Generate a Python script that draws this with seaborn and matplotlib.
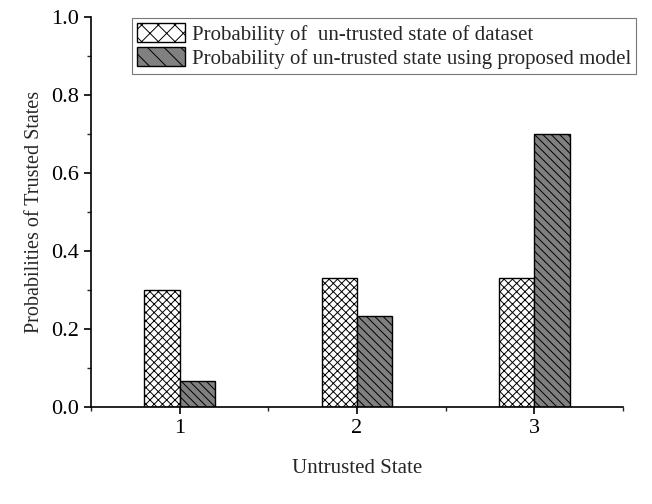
import matplotlib
matplotlib.use("Agg")
import matplotlib.pyplot as plt
import seaborn as sns
import pandas as pd
from matplotlib.ticker import MultipleLocator
from matplotlib.patches import Patch

# data
states = [1, 2, 3]
p_dataset = [0.30, 0.33, 0.33]
p_model = [0.067, 0.233, 0.70]
series_names = ["Probability of  un-trusted state of dataset",
                "Probability of un-trusted state using proposed model"]

df = pd.DataFrame({
    "state": states * 2,
    "prob": p_dataset + p_model,
    "series": [series_names[0]] * 3 + [series_names[1]] * 3,
})

sns.set_style("ticks")
plt.rcParams["font.family"] = ["Liberation Serif", "DejaVu Serif"]
plt.rcParams["hatch.linewidth"] = 0.7

fig = plt.figure(figsize=(6.52, 5.04), dpi=100)
ax = fig.add_axes([0.1396, 0.1925, 0.8159, 0.7738])

sns.barplot(data=df, x="state", y="prob", hue="series", native_scale=True,
            width=0.4, palette=["white", "#808080"], edgecolor="black",
            linewidth=1.0, ax=ax, legend=False)

hatches = ["xxxx", "\\\\\\\\"]
for cont, h in zip(ax.containers, hatches):
    for bar in cont:
        bar.set_hatch(h)
        bar.set_edgecolor("black")

ax.set_xlim(0.5, 3.5)
ax.set_ylim(0, 1.0)
ax.set_xticks(states)
ax.xaxis.set_minor_locator(MultipleLocator(0.5))
ax.yaxis.set_major_locator(MultipleLocator(0.2))
ax.yaxis.set_minor_locator(MultipleLocator(0.1))
ax.yaxis.set_major_formatter(matplotlib.ticker.FormatStrFormatter("%.1f"))
ax.tick_params(which="major", direction="out", length=5, width=1.2, labelsize=16, colors="black")
ax.tick_params(which="minor", direction="out", length=3, width=1.0)
for s in ["left", "bottom"]:
    ax.spines[s].set_linewidth(1.2)
    ax.spines[s].set_color("black")
sns.despine(ax=ax)

ax.set_xlabel("Untrusted State", fontsize=15, labelpad=15)
ax.set_ylabel("Probabilities of Trusted States", fontsize=14.5, labelpad=5)

# legend with hatched handles
handles = [Patch(facecolor="white", edgecolor="black", hatch="xx", linewidth=1.0),
           Patch(facecolor="#808080", edgecolor="black", hatch="\\\\", linewidth=1.0)]
leg = ax.legend(handles, series_names, loc="upper right", bbox_to_anchor=(1.0245, 0.998),
                fontsize=15, frameon=True, fancybox=False, edgecolor="#555555",
                handlelength=2.3, handleheight=1.05, handletextpad=0.3,
                borderpad=0.25, labelspacing=0.1, borderaxespad=0.0)
leg.get_frame().set_linewidth(0.8)

fig.savefig("out.png", dpi=100)
